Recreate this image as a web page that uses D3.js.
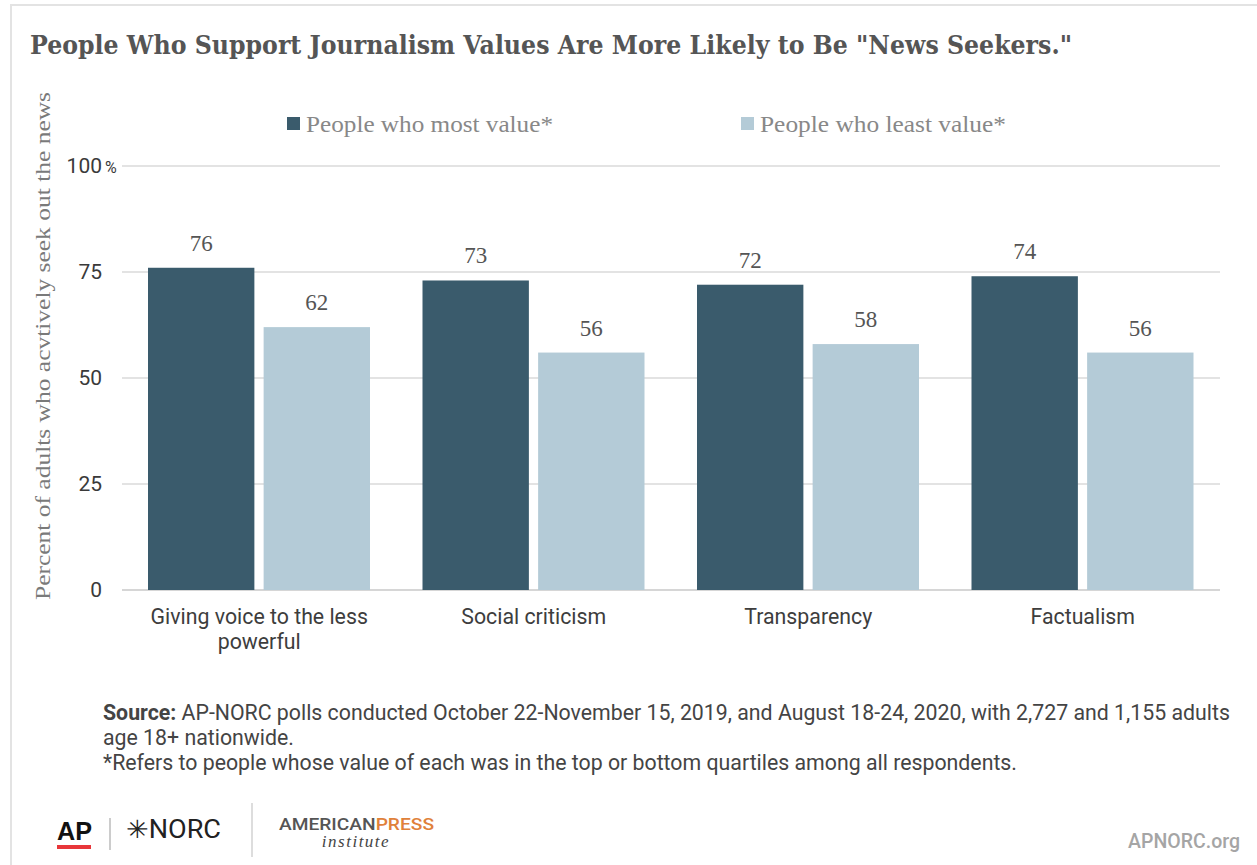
<!DOCTYPE html>
<html><head><meta charset="utf-8">
<script src="https://cdn.jsdelivr.net/npm/d3@7"></script>
<style>body{margin:0;background:#fff}svg{display:block}</style>
</head><body>
<script>
const categories = [["Giving voice to the less","powerful"],["Social criticism"],["Transparency"],["Factualism"]];
const seriesNames = ["People who most value*","People who least value*"];
const mostValue = [76,73,72,74];
const leastValue = [62,56,58,56];
const yTicks = [0,25,50,75,100];
const colors = ["#3a5b6c","#b4cbd7"];

const W=1257,H=865;
const svg=d3.select("body").append("svg").attr("width",W).attr("height",H);

// frame
svg.append("path").attr("d","M11,865 V5 H1257").attr("fill","none").attr("stroke","#e3e3e3").attr("stroke-width",2);

// title
svg.append("text").attr("x",30).attr("y",54).attr("font-family","DejaVu Serif").attr("font-weight","bold")
 .attr("font-size",26).attr("fill","#555").attr("textLength",1042).attr("lengthAdjust","spacingAndGlyphs")
 .text('People Who Support Journalism Values Are More Likely to Be "News Seekers."');

const x0=d3.scaleBand().domain(d3.range(categories.length)).range([122,1220]).paddingInner(0).paddingOuter(0);
const y=d3.scaleLinear().domain([0,100]).range([590,166]);

// grid
const g=svg.append("g");
g.selectAll("line.grid").data(yTicks).join("line").attr("x1",122).attr("x2",1220)
 .attr("y1",d=>y(d)).attr("y2",d=>y(d)).attr("stroke",d=>d===0?"#d6d6d6":"#e3e3e3").attr("stroke-width",2);
g.selectAll("text.tick").data(yTicks).join("text").attr("x",102).attr("y",d=>y(d)+7)
 .attr("text-anchor","end").attr("font-family","Roboto").attr("font-size",21).attr("fill","#3a3a3a").text(d=>d);
svg.append("text").attr("x",105).attr("y",y(100)+7).attr("font-family","Roboto").attr("font-size",16).attr("fill","#3a3a3a").text("%");

// y title
svg.append("text").attr("transform",`translate(50,346) rotate(-90)`).attr("text-anchor","middle")
 .attr("font-family","Liberation Serif").attr("font-size",21).attr("fill","#7a7a7a")
 .attr("textLength",508).attr("lengthAdjust","spacingAndGlyphs")
 .text("Percent of adults who acvtively seek out the news");

// bars
const x1=d3.scaleBand().domain([0,1]).range([26,248]).paddingInner(0.08);
const data=categories.map((c,i)=>[mostValue[i],leastValue[i]]);
const grp=svg.append("g").selectAll("g").data(data).join("g").attr("transform",(d,i)=>`translate(${x0(i)},0)`);
grp.selectAll("rect").data(d=>d).join("rect").attr("x",(d,j)=>x1(j)).attr("width",x1.bandwidth())
 .attr("y",d=>y(d)).attr("height",d=>y(0)-y(d)).attr("fill",(d,j)=>colors[j]);
grp.selectAll("text").data(d=>d).join("text").attr("x",(d,j)=>x1(j)+x1.bandwidth()/2).attr("y",d=>y(d)-17)
 .attr("text-anchor","middle").attr("font-family","Liberation Serif").attr("font-size",23).attr("fill","#555").text(d=>d);

// category labels
categories.forEach((c,i)=>{
  c.forEach((line,k)=>{
    svg.append("text").attr("x",x0(i)+x0.bandwidth()/2).attr("y",624+k*25).attr("text-anchor","middle")
     .attr("font-family","Roboto").attr("font-size",21.3).attr("fill","#3d3d3d").text(line);
  });
});

// legend
const legRect=[287,741], legText=[306,760], legW=[247,246];
seriesNames.forEach((s,i)=>{
  svg.append("rect").attr("x",legRect[i]).attr("y",117).attr("width",13).attr("height",13).attr("fill",colors[i]);
  svg.append("text").attr("x",legText[i]).attr("y",132).attr("font-family","Liberation Serif").attr("font-size",23)
   .attr("fill","#888").attr("textLength",legW[i]).attr("lengthAdjust","spacingAndGlyphs").text(s);
});

// source
const src=svg.append("g").attr("font-family","Roboto").attr("font-size",21.3).attr("fill","#444");
const t1=src.append("text").attr("x",103).attr("y",720);
t1.append("tspan").attr("font-weight","bold").text("Source:");
t1.append("tspan").text(" AP-NORC polls conducted October 22-November 15, 2019, and August 18-24, 2020, with 2,727 and 1,155 adults");
src.append("text").attr("x",103).attr("y",745).text("age 18+ nationwide.");
src.append("text").attr("x",103).attr("y",770).text("*Refers to people whose value of each was in the top or bottom quartiles among all respondents.");

// footer logos
const f=svg.append("g");
f.append("text").attr("x",57).attr("y",840).attr("font-family","Liberation Sans").attr("font-weight","bold").attr("font-size",26).attr("fill","#111").attr("textLength",35).attr("lengthAdjust","spacingAndGlyphs").text("AP");
f.append("rect").attr("x",57).attr("y",845).attr("width",34).attr("height",4).attr("fill","#e8363a");
f.append("line").attr("x1",110).attr("x2",110).attr("y1",818).attr("y2",850).attr("stroke","#999").attr("stroke-width",1);
f.append("text").attr("x",126).attr("y",838).attr("font-family","Roboto").attr("font-size",25).attr("fill","#222").attr("textLength",95).attr("lengthAdjust","spacingAndGlyphs").text("✳NORC");
f.append("line").attr("x1",252).attr("x2",252).attr("y1",803).attr("y2",857).attr("stroke","#ddd").attr("stroke-width",2);
const ap=f.append("text").attr("x",279).attr("y",830).attr("font-family","Roboto").attr("font-weight","500").attr("font-size",16).attr("textLength",155).attr("lengthAdjust","spacingAndGlyphs");
ap.append("tspan").attr("fill","#555").text("AMERICAN");
ap.append("tspan").attr("fill","#e0813a").text("PRESS");
f.append("text").attr("x",356).attr("y",847).attr("text-anchor","middle").attr("font-family","Liberation Serif").attr("font-style","italic").attr("font-size",17).attr("fill","#444").attr("letter-spacing",1.5).text("institute");
f.append("text").attr("x",1240).attr("y",848).attr("text-anchor","end").attr("font-family","Roboto").attr("font-weight","500").attr("font-size",19.5).attr("fill","#a5a5a5").text("APNORC.org");
</script>
</body></html>
